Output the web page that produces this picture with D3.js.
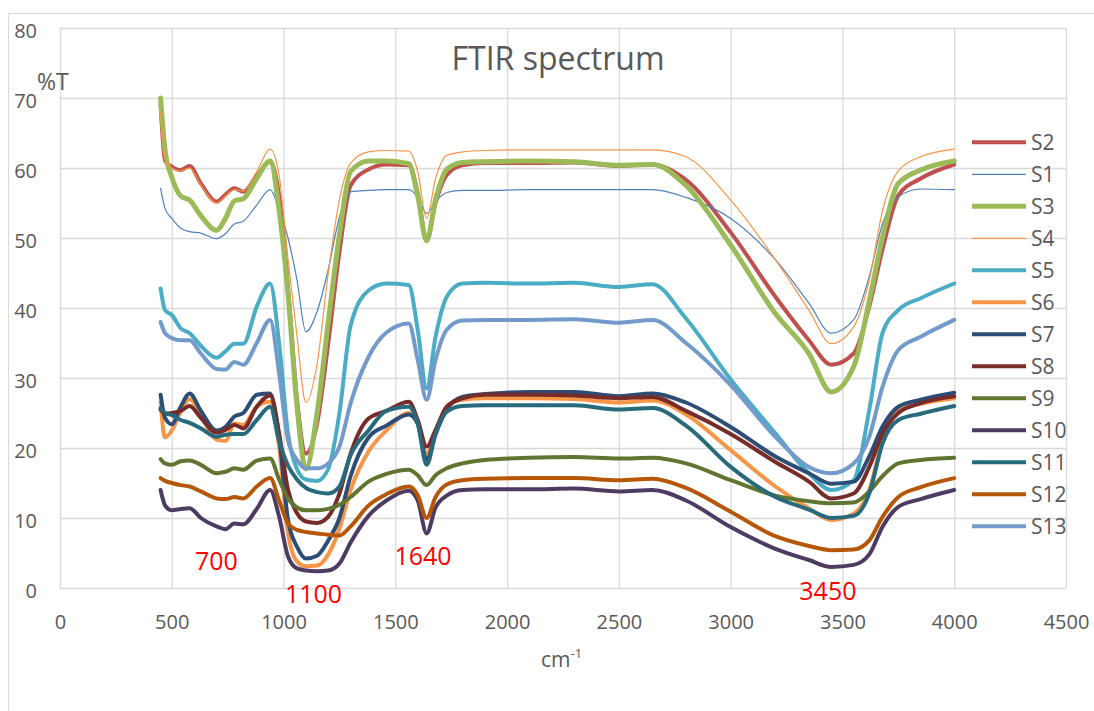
<!DOCTYPE html>
<html>
<head>
<meta charset="utf-8">
<script src="https://cdn.jsdelivr.net/npm/d3@7"></script>
<style>
  body { margin: 0; background: #fff; }
  svg { display: block; font-family: 'Open Sans', sans-serif; }
</style>
</head>
<body>
<svg id="chart" width="1094" height="711"></svg>
<script>
// wavenumber grid (cm-1) shared by every sample
const wavenumbers = [450, 470, 500, 540, 580, 630, 700, 740, 780, 820, 880, 940, 980, 1020, 1060, 1100, 1150, 1200, 1250, 1300, 1380, 1460, 1560, 1600, 1640, 1680, 1730, 1800, 1900, 2100, 2300, 2500, 2650, 2800, 3000, 3200, 3350, 3450, 3550, 3620, 3680, 3750, 3850, 4000];

// %T values
const s1 = [57.1, 54.2, 52.8, 51.4, 50.9, 50.7, 49.9, 50.6, 52.0, 52.4, 54.7, 56.9, 54, 50, 44, 36.6, 39.5, 45.5, 53, 56.6, 56.8, 56.9, 56.9, 55.8, 53.5, 55.2, 56.5, 56.8, 56.8, 56.9, 56.9, 56.9, 56.9, 55.8, 52.8, 46.9, 40.7, 36.4, 38.3, 44.5, 52.1, 55.9, 57.0, 56.9];
const s2 = [69, 61, 60.2, 59.7, 60.3, 57.8, 55.2, 56.2, 57.1, 56.6, 58.9, 60.9, 56, 43, 27, 19.2, 23.5, 35, 48, 57.5, 59.8, 60.5, 60.4, 56.5, 49.7, 55, 59, 60.4, 60.7, 60.7, 60.8, 60.3, 60.5, 58.3, 50.8, 41.6, 35.4, 31.9, 33.5, 40.2, 48.5, 56.1, 58.5, 60.5];
const s3 = [70, 62.5, 58.7, 56.0, 55.4, 53.2, 51.1, 52.8, 55.3, 55.6, 58.5, 61.0, 54, 42, 26, 17.0, 25, 38, 50.5, 59.5, 61, 61, 60.6, 56, 49.6, 55.5, 59.8, 60.8, 60.9, 61, 60.9, 60.4, 60.5, 57.5, 49, 39.2, 33.5, 28.0, 31.6, 41, 50.2, 57.8, 59.7, 61.0];
const s4 = [68, 61.5, 60, 59.6, 60.0, 57.6, 55.0, 56.0, 56.9, 56.7, 59.5, 62.7, 59, 47, 36, 26.5, 32, 45, 55.5, 60.7, 62.3, 62.5, 62.4, 59.5, 52.8, 58.5, 61.8, 62.3, 62.5, 62.6, 62.6, 62.6, 62.6, 61.6, 55.4, 46.9, 39.7, 34.9, 37.3, 44, 54, 59.6, 61.6, 62.7];
const s5 = [42.8, 39.7, 39.0, 37.1, 36.4, 34.6, 32.9, 33.8, 34.9, 34.9, 40.2, 43.5, 35, 22, 17, 15.5, 15.3, 17, 25, 37.5, 42.5, 43.5, 43.3, 36.9, 28.5, 35.9, 41.6, 43.5, 43.6, 43.5, 43.6, 43.0, 43.4, 38.5, 29.8, 22.1, 16.4, 14.0, 15.4, 25.4, 36.5, 39.7, 41.4, 43.5];
const s6 = [26.5, 21.5, 22.5, 25.2, 27.0, 24.6, 21.2, 21.0, 23.5, 23.3, 25.9, 26.6, 20.2, 7.8, 3.8, 3.1, 3.2, 4.8, 8.5, 14, 19.5, 22.5, 25.0, 23.5, 19.2, 22.3, 25.9, 26.9, 27.1, 27.1, 27.0, 26.5, 26.8, 24.8, 19.7, 14.5, 11.4, 9.7, 10.6, 14, 21.3, 25.4, 26.3, 27.1];
const s7 = [27.6, 24.3, 23.4, 25.9, 27.8, 25.3, 22.5, 23.0, 24.5, 25.0, 27.6, 27.8, 21.6, 9.7, 5.9, 4.2, 4.6, 6.8, 10, 16, 21.5, 23.2, 24.8, 23.5, 18.3, 22, 25.5, 27.3, 27.7, 28, 28, 27.4, 27.8, 26.5, 23, 18.8, 16.4, 14.9, 15.2, 18.8, 23.1, 25.9, 26.9, 27.9];
const s8 = [25.5, 24.9, 25.0, 25.3, 26.0, 24.3, 22.2, 22.6, 23.3, 22.8, 25.9, 27.5, 22.1, 14, 10.7, 9.5, 9.3, 10.2, 13.5, 19.2, 24.2, 25.3, 26.6, 24, 20.2, 22.6, 25.9, 27.1, 27.6, 27.6, 27.5, 27.1, 27.3, 25.3, 22, 18.0, 15.2, 12.8, 13.5, 17.3, 22.1, 25, 26.4, 27.4];
const s9 = [18.4, 17.8, 17.6, 18.1, 18.2, 17.6, 16.4, 16.6, 17.1, 16.9, 18.2, 18.5, 15.5, 12.8, 11.5, 11.1, 11.1, 11.3, 11.9, 13, 15.2, 16.3, 16.9, 16.1, 14.7, 16.1, 17.1, 17.8, 18.3, 18.6, 18.7, 18.5, 18.6, 17.8, 15.4, 13.2, 12.4, 12.1, 12.2, 13.8, 16.0, 17.8, 18.3, 18.6];
const s10 = [14.0, 11.8, 11.1, 11.3, 11.4, 10.0, 8.8, 8.4, 9.2, 9.1, 11.3, 14.0, 10.2, 4.5, 2.8, 2.5, 2.4, 2.5, 3.5, 6.5, 10.3, 12.5, 13.9, 12.5, 7.8, 11.5, 13.2, 14.0, 14.1, 14.1, 14.2, 13.8, 14.0, 12.5, 8.7, 5.6, 4.0, 3.0, 3.3, 4.8, 8.8, 11.6, 12.7, 14.0];
const s11 = [25.7, 25.0, 24.7, 24.0, 23.6, 22.8, 21.6, 21.9, 22.0, 22.0, 24.0, 25.9, 21, 17.5, 15.5, 14.3, 13.7, 13.5, 14.5, 19, 22.5, 25.3, 25.9, 23.5, 17.6, 22.0, 25.2, 26.0, 26.1, 26.1, 26.1, 25.5, 25.7, 23.2, 17.3, 13, 11.2, 10.0, 10.3, 13.5, 20.7, 24, 24.9, 26];
const s12 = [15.7, 15.3, 15.0, 14.7, 14.5, 13.8, 12.8, 12.7, 13.0, 12.8, 14.5, 15.7, 12.5, 9.2, 8.3, 8.0, 7.8, 7.6, 7.5, 8.8, 11.8, 13.4, 14.5, 13.3, 10.0, 13.0, 14.8, 15.4, 15.6, 15.7, 15.7, 15.4, 15.6, 14.3, 10.9, 7.4, 6.0, 5.4, 5.5, 6.8, 10.2, 13.0, 14.4, 15.7];
const s13 = [38.0, 36.4, 35.7, 35.4, 35.4, 33.5, 31.3, 31.2, 32.3, 31.9, 35, 38.3, 30.7, 21.1, 18.3, 17.1, 17.1, 17.8, 20.2, 26.4, 33, 36.5, 37.8, 32.6, 26.9, 32.6, 36.9, 38.2, 38.3, 38.3, 38.4, 37.9, 38.3, 35, 29, 21.6, 17.3, 16.4, 17.8, 21.6, 28.8, 34, 35.9, 38.3];

// legend order = drawing order
const seriesNames = ['S2', 'S1', 'S3', 'S4', 'S5', 'S6', 'S7', 'S8', 'S9', 'S10', 'S11', 'S12', 'S13'];
const seriesValues = [s2, s1, s3, s4, s5, s6, s7, s8, s9, s10, s11, s12, s13];

const xTicks = [0, 500, 1000, 1500, 2000, 2500, 3000, 3500, 4000, 4500];
const yTicks = [0, 10, 20, 30, 40, 50, 60, 70, 80];

// band labels written in red on the chart
const peakLabels = ['700', '1100', '1640', '3450'];
const peakAt = [700, 1134, 1624, 3435];
const peakLevel = [2.6, -2.1, 3.3, -1.7];

const colors = ['#C0504D', '#4F81BD', '#9BBB59', '#F79646', '#4BACC6', '#F79646', '#2C4D75', '#772C2A', '#5F7530', '#4D3B62', '#276A7C', '#B65708', '#729ACA'];
const widths = [4, 1.2, 5, 1.2, 4, 4, 4, 4, 4, 4, 4, 4, 4];

const svg = d3.select('#chart');
const plot = { left: 60, right: 1066, top: 28, bottom: 588 };

const x = d3.scaleLinear().domain([0, 4500]).range([plot.left, plot.right]);
const y = d3.scaleLinear().domain([0, 80]).range([plot.bottom, plot.top]);

// outer chart frame
svg.append('rect')
  .attr('x', 8.5).attr('y', 13.5)
  .attr('width', 1100).attr('height', 720)
  .attr('fill', 'none')
  .attr('stroke', '#D9D9D9');

// Gridlines + tick labels
const yAxis = svg.append('g')
  .attr('transform', `translate(${plot.left},0)`)
  .call(d3.axisLeft(y).tickValues(yTicks).tickSize(-(plot.right - plot.left)).tickPadding(23));

const xAxis = svg.append('g')
  .attr('transform', `translate(0,${plot.bottom})`)
  .call(d3.axisBottom(x).tickValues(xTicks).tickFormat(d3.format('d'))
    .tickSize(-(plot.bottom - plot.top)).tickPadding(41));

[yAxis, xAxis].forEach(ax => {
  ax.select('.domain').remove();
  ax.selectAll('line').attr('stroke', '#D9D9D9').attr('stroke-width', 1.3);
  ax.selectAll('text')
    .attr('fill', '#595959')
    .style('font-size', '20px')
    .style('font-family', "'Open Sans', sans-serif");
});
yAxis.selectAll('text').attr('dy', '9px');
xAxis.selectAll('text').attr('dy', '0px');

// Series lines
const line = d3.line()
  .x((d, i) => x(wavenumbers[i]))
  .y(d => y(d))
  .curve(d3.curveMonotoneX);

svg.append('g')
  .selectAll('path')
  .data(seriesValues)
  .join('path')
  .attr('d', line)
  .attr('fill', 'none')
  .attr('stroke', (d, i) => colors[i])
  .attr('stroke-width', (d, i) => widths[i])
  .attr('stroke-linejoin', 'round')
  .attr('stroke-linecap', 'round');

// Title and axis titles
svg.append('text')
  .attr('x', 558).attr('y', 70)
  .attr('text-anchor', 'middle')
  .attr('fill', '#595959')
  .style('font-size', '32px')
  .text('FTIR spectrum');

svg.append('text')
  .attr('x', 37).attr('y', 90)
  .attr('fill', '#595959')
  .style('font-size', '23px')
  .text('%T');

const xTitle = svg.append('text')
  .attr('x', 541).attr('y', 667)
  .attr('fill', '#595959')
  .style('font-size', '21px');
xTitle.append('tspan').text('cm');
xTitle.append('tspan').attr('dy', -9).style('font-size', '13px').text('-1');

// red band annotations
svg.append('g')
  .selectAll('text')
  .data(peakLabels)
  .join('text')
  .attr('x', (d, i) => x(peakAt[i]))
  .attr('y', (d, i) => y(peakLevel[i]))
  .attr('text-anchor', 'middle')
  .attr('fill', '#FF0000')
  .style('font-size', '25px')
  .text(d => d);

// Legend
const legend = svg.append('g')
  .selectAll('g')
  .data(seriesNames)
  .join('g')
  .attr('transform', (d, i) => `translate(972,${142.3 + i * 32})`);

legend.append('line')
  .attr('x1', 0).attr('x2', 54)
  .attr('stroke', (d, i) => colors[i])
  .attr('stroke-width', (d, i) => widths[i]);

legend.append('text')
  .attr('x', 59).attr('y', 7.5)
  .attr('fill', '#595959')
  .style('font-size', '21px')
  .text(d => d);
</script>
</body>
</html>
